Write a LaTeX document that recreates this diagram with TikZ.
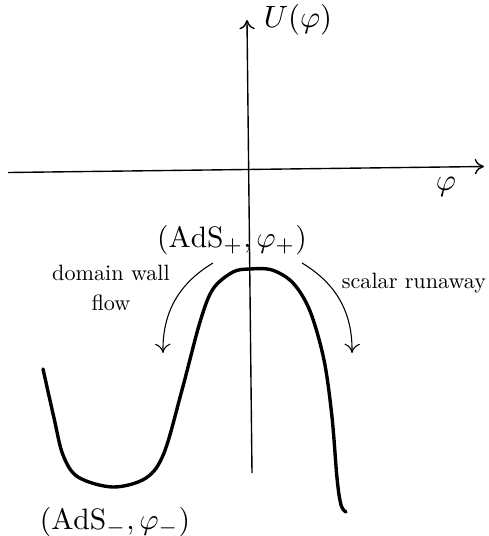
\documentclass[tikz,border=0pt]{standalone}
\usetikzlibrary{arrows.meta}
\begin{document}
\begin{tikzpicture}[x=0.325pt,y=-0.325pt,
  axis/.style={line width=0.45pt,-{To[length=3pt,width=5pt]}},
  flowarrow/.style={line width=0.35pt,-{To[length=3pt,width=5pt]}},
  potential/.style={line width=1.1pt,line cap=round,line join=round},
  lbl/.style={inner sep=0pt}]
\useasboundingbox (0,0) rectangle (488,536);
% axes
\coordinate (xl) at (8,172.5);
\coordinate (xr) at (484,166.5);
\coordinate (yb) at (252,473);
\coordinate (yt) at (247,20);
\draw[axis] (xl) -- (xr);
\draw[axis] (yb) -- (yt);
\node[lbl] (U) at (298,20) {$U(\varphi)$};
\node[lbl] (phi) at (446,187) {$\varphi$};
% potential
\draw[potential] plot[smooth,tension=0.55] coordinates {
 (43,369) (54,418) (63,455) (78,477) (113,487) (146,478) (164,453)
 (182,390) (200,322) (213,289) (233,272) (250,269) (272,270) (293,283)
 (310,311) (324,360) (332,417) (337,478) (341,505) (346,512)};
% labels
\node[lbl] (top) at (232,240) {\scalebox{0.96}{$(\mathrm{AdS}_+,\varphi_+)$}};
\node[lbl] (bot) at (115,522) {\scalebox{0.96}{$(\mathrm{AdS}_-,\varphi_-)$}};
\node[lbl] (dw) at (111,290) {\scalebox{0.72}{\begin{tabular}{@{}c@{}}domain wall\\[1.5pt]flow\end{tabular}}};
\node[lbl] (sr) at (414,283) {\scalebox{0.72}{scalar runaway}};
% flow arrows
\coordinate (l1) at (213,263);
\coordinate (l2) at (163,353);
\coordinate (r1) at (302,263);
\coordinate (r2) at (352,353);
\draw[flowarrow] (l1) to[bend right=30] (l2);
\draw[flowarrow] (r1) to[bend left=30] (r2);
\end{tikzpicture}
\end{document}
